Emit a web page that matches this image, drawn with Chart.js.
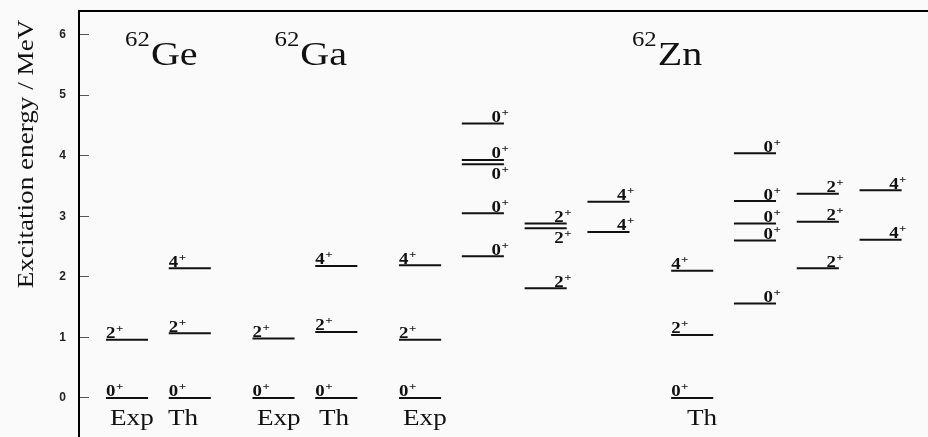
<!DOCTYPE html>
<html><head><meta charset="utf-8">
<script src="https://cdn.jsdelivr.net/npm/chart.js@4/dist/chart.umd.min.js"></script>
<style>html,body{margin:0;padding:0;background:#fafafa;overflow:hidden}canvas{display:block}</style>
</head><body>
<canvas id="c" width="928" height="437"></canvas>
<script>
// ---------------- data ----------------
const columns = ['62Ge Exp', '62Ge Th', '62Ga Exp', '62Ga Th', '62Zn Exp g.s.', '62Zn Exp 0+', '62Zn Exp 2+', '62Zn Exp 4+', '62Zn Th g.s.', '62Zn Th 0+', '62Zn Th 2+', '62Zn Th 4+'];
const geExpE  = [0.00, 0.96];                    const geExpJ  = [0, 2];
const geThE   = [0.00, 1.07, 2.14];              const geThJ   = [0, 2, 4];
const gaExpE  = [0.00, 0.98];                    const gaExpJ  = [0, 2];
const gaThE   = [0.00, 1.09, 2.18];              const gaThJ   = [0, 2, 4];
const znExpGsE = [0.00, 0.96, 2.19];             const znExpGsJ = [0, 2, 4];
const znExp0E = [2.34, 3.05, 3.86, 3.93, 4.53];  const znExp0J = [0, 0, 0, 0, 0];
const znExp2E = [1.81, 2.80, 2.88];              const znExp2J = [2, 2, 2];
const znExp4E = [2.74, 3.24];                    const znExp4J = [4, 4];
const znThGsE = [0.00, 1.04, 2.10];              const znThGsJ = [0, 2, 4];
const znTh0E  = [1.56, 2.60, 2.88, 3.25, 4.04];  const znTh0J  = [0, 0, 0, 0, 0];
const znTh2E  = [2.14, 2.91, 3.37];              const znTh2J  = [2, 2, 2];
const znTh4E  = [2.61, 3.43];                    const znTh4J  = [4, 4];
const levelEnergies = [geExpE, geThE, gaExpE, gaThE, znExpGsE, znExp0E, znExp2E, znExp4E, znThGsE, znTh0E, znTh2E, znTh4E];
const levelSpins    = [geExpJ, geThJ, gaExpJ, gaThJ, znExpGsJ, znExp0J, znExp2J, znExp4J, znThGsJ, znTh0J, znTh2J, znTh4J];
const yTicks = [0, 1, 2, 3, 4, 5, 6];
const massNumber = '62';
const elements = ['Ge', 'Ga', 'Zn'];
const sideLabels = ['Exp', 'Th', 'Exp', 'Th', 'Exp', 'Th'];
const yTitle = 'Excitation energy / MeV';

// ---------------- layout / style ----------------
const colX = [0, 1, 2.333, 3.333, 4.667, 5.667, 6.667, 7.667, 9, 10, 11, 12];
const halfW = 0.335;
const labelSide = ['left','left','left','left','left','right','right','right','left','right','right','right'];
const labelBelow = {5: [2], 6: [1]};           // column -> level indices labelled below the line
const elementX = [-0.03, 2.35, 8.04];
const elementY = 5.5;
const sideLabelX = [-0.27, 0.653, 2.07, 3.057, 4.395, 8.917];
const sideLabelY = -0.446;
const SX = 1.18;   // horizontal stretch of the serif lettering
const INK = '#111';

const datasets = [];
levelEnergies.forEach((arr, c) => {
  arr.forEach((E) => {
    datasets.push({
      data: [{x: colX[c] - halfW, y: E}, {x: colX[c] + halfW, y: E}],
      borderColor: INK, borderWidth: 2, pointRadius: 0, fill: false, tension: 0
    });
  });
});

function serif(ctx, text, px, py, size, bold, align) {
  ctx.save();
  ctx.translate(px, py);
  ctx.scale(SX, 1);
  ctx.font = (bold ? 'bold ' : '') + size + 'px "Liberation Serif", "Times New Roman", serif';
  ctx.textAlign = align || 'left';
  ctx.textBaseline = 'alphabetic';
  ctx.fillStyle = INK;
  ctx.fillText(text, 0, 0);
  const w = ctx.measureText(text).width * SX;
  ctx.restore();
  return w;
}

const bgPlugin = {
  id: 'bg',
  beforeDraw(chart) {
    const ctx = chart.ctx;
    ctx.save(); ctx.fillStyle = '#fafafa'; ctx.fillRect(0, 0, chart.width, chart.height); ctx.restore();
  }
};

const textPlugin = {
  id: 'levelText',
  afterDatasetsDraw(chart) {
    const ctx = chart.ctx;
    const xs = chart.scales.x, ys = chart.scales.y;
    // level labels
    levelEnergies.forEach((arr, c) => {
      arr.forEach((E, i) => {
        const yPix = ys.getPixelForValue(E);
        const below = (labelBelow[c] || []).includes(i);
        const base = below ? yPix + 15 : yPix - 1.5;
        const J = String(levelSpins[c][i]);
        if (labelSide[c] === 'left') {
          const x0 = xs.getPixelForValue(colX[c] - halfW);
          const w = serif(ctx, J, x0, base, 16, true, 'left');
          serif(ctx, '+', x0 + w + 0.5, base - 6, 11, true, 'left');
        } else {
          const x1 = xs.getPixelForValue(colX[c] + halfW);
          serif(ctx, J, x1 - 3, base, 16, true, 'right');
          serif(ctx, '+', x1 - 3 + 0.5, base - 6, 11, true, 'left');
        }
      });
    });
    // nucleus names
    elements.forEach((el, k) => {
      const x0 = xs.getPixelForValue(elementX[k]);
      const yb = ys.getPixelForValue(elementY);
      const w = serif(ctx, massNumber, x0, yb - 19, 21, false, 'left');
      serif(ctx, el, x0 + w + 1, yb, 34, false, 'left');
    });
    // Exp / Th labels
    sideLabels.forEach((t, k) => {
      serif(ctx, t, xs.getPixelForValue(sideLabelX[k]), ys.getPixelForValue(sideLabelY), 23, false, 'left');
    });
    // y-axis title
    ctx.save();
    ctx.translate(27, 154);
    ctx.rotate(-Math.PI / 2);
    ctx.scale(SX, 1);
    ctx.font = '23px "Liberation Serif", "Times New Roman", serif';
    ctx.textAlign = 'center';
    ctx.textBaseline = 'middle';
    ctx.fillStyle = INK;
    ctx.fillText(yTitle, 0, 0);
    ctx.restore();
  }
};

new Chart(document.getElementById('c'), {
  type: 'line',
  data: { datasets },
  options: {
    responsive: false,
    animation: false,
    devicePixelRatio: 1,
    layout: { padding: { top: 11, left: 0, right: 0, bottom: 0 } },
    plugins: { legend: { display: false }, tooltip: { enabled: false } },
    scales: {
      x: { type: 'linear', min: -0.764, max: 12.755, display: false },
      xTop: {
        type: 'linear', position: 'top', min: 0, max: 1, display: true,
        ticks: { display: false },
        grid: { display: false, drawTicks: false },
        border: { display: true, color: '#000', width: 2 },
        afterFit(s) { s.height = 0; s.paddingLeft = 0; s.paddingRight = 0; }
      },
      y: {
        type: 'linear', position: 'left', min: -0.644, max: 6.388,
        afterFit(s) { s.width = 79; s.paddingTop = 0; s.paddingBottom = 0; },
        afterBuildTicks(s) { s.ticks = yTicks.map(v => ({ value: v })); },
        ticks: { padding: 23, color: '#222', font: { family: 'Liberation Sans', weight: 'bold', size: 12 } },
        grid: { drawOnChartArea: false, drawTicks: true, tickLength: -10, color: '#555', lineWidth: 1 },
        border: { display: true, color: '#000', width: 2 }
      }
    }
  },
  plugins: [bgPlugin, textPlugin]
});
</script>
</body></html>
